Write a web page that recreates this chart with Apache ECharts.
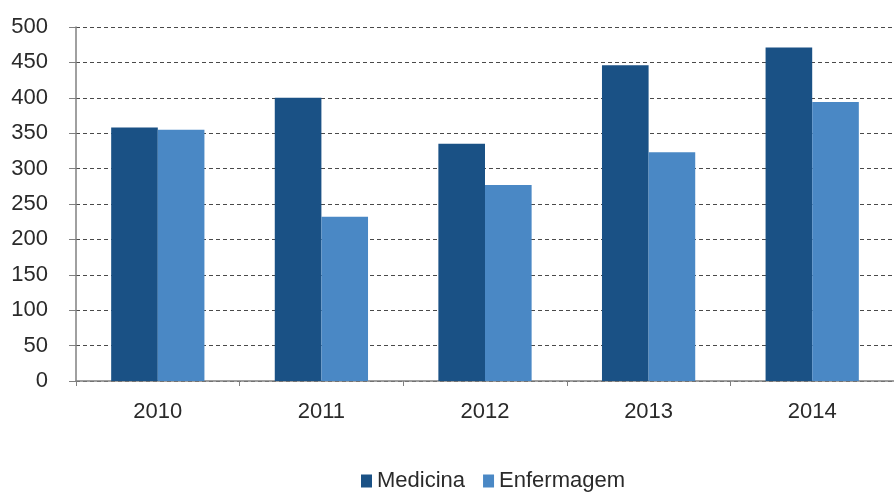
<!DOCTYPE html>
<html>
<head>
<meta charset="utf-8">
<script src="https://cdn.jsdelivr.net/npm/echarts@6/dist/echarts.min.js"></script>
<style>
  html, body { margin: 0; padding: 0; background: #ffffff; }
  #chart { width: 894px; height: 495px; }
</style>
</head>
<body>
<div id="chart"></div>
<script>
// Years on the horizontal axis
const years = ['2010', '2011', '2012', '2013', '2014'];
// Values per course
const medicina = [358, 400, 335, 446, 471];
const enfermagem = [355, 232, 277, 323, 394];
// Vertical scale
const yMin = 0;
const yMax = 500;
const yStep = 50;

const chart = echarts.init(document.getElementById('chart'));
const font = 'Liberation Sans, Arial, sans-serif';

chart.setOption({
  animation: false,
  backgroundColor: '#ffffff',
  grid: { left: 76, top: 27, right: -10, bottom: 114, containLabel: false },
  legend: {
    left: 361,
    bottom: 3,
    padding: 0,
    itemWidth: 11,
    itemHeight: 13,
    itemGap: 18,
    icon: 'rect',
    textStyle: { fontFamily: font, fontSize: 22, color: '#2a2a2a' },
    data: ['Medicina', 'Enfermagem']
  },
  xAxis: {
    type: 'category',
    data: years,
    axisLine: { lineStyle: { color: '#808080', width: 1.5 } },
    axisTick: { show: true, length: 5, lineStyle: { color: '#808080' } },
    axisLabel: { margin: 20, fontFamily: font, fontSize: 22, color: '#2a2a2a' }
  },
  yAxis: {
    type: 'value',
    min: yMin,
    max: yMax,
    interval: yStep,
    axisLine: { show: true, lineStyle: { color: '#808080', width: 1.5 } },
    axisTick: { show: true, length: 7, lineStyle: { color: '#808080' } },
    axisLabel: { margin: 28, fontFamily: font, fontSize: 22, color: '#2a2a2a' },
    splitLine: { lineStyle: { color: '#4a4a4a', type: [4, 3], width: 1 } }
  },
  series: [
    {
      name: 'Medicina',
      type: 'bar',
      data: medicina,
      barGap: '0%',
      barCategoryGap: '43%',
      itemStyle: { color: '#1a5185' }
    },
    {
      name: 'Enfermagem',
      type: 'bar',
      data: enfermagem,
      itemStyle: { color: '#4a88c5' }
    }
  ]
});
</script>
</body>
</html>
